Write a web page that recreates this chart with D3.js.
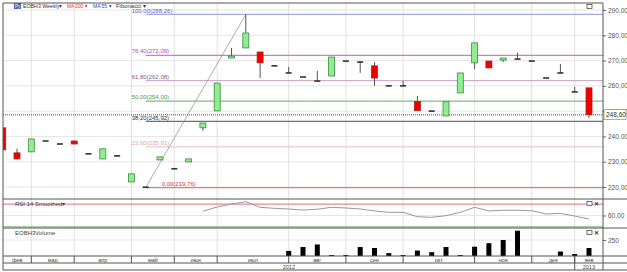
<!DOCTYPE html>
<html>
<head>
<meta charset="utf-8">
<script src="https://cdn.jsdelivr.net/npm/d3@7"></script>
<style>
body { margin: 0; background: #fff; }
text { font-family: "Liberation Sans", Arial, sans-serif; }
</style>
</head>
<body>
<div id="chart"></div>
<script>
// weekly candles, EOBH3
var open  = [243.4,233.5,233.9,238.2,237.0,238.2,233.1,231.1,232.3,222.0,219.9,230.7,227.2,229.9,243.4,250.1,271.0,275.0,273.4,267.9,265.1,263.5,261.9,263.9,269.8,269.4,267.9,260.0,260.0,253.8,250.0,248.1,257.2,269.1,269.8,270.2,270.6,269.8,263.1,265.1,257.6,259.2]
var high  = [243.4,235.1,239.0,238.2,237.0,238.2,233.1,235.1,232.3,225.2,219.9,231.9,227.2,231.1,245.3,261.1,275.0,288.26,273.4,267.9,267.5,263.5,265.9,271.4,269.8,269.8,269.4,260.0,262.0,256.0,250.0,253.7,265.1,277.0,269.8,271.0,273.0,269.8,263.1,268.7,259.6,259.2]
var low   = [234.7,231.1,233.9,238.2,237.0,237.0,233.1,231.1,232.3,222.0,219.76,230.7,227.2,229.9,242.2,250.1,271.0,275.0,263.1,267.9,265.1,263.5,261.9,263.9,269.8,265.1,260.0,260.0,260.0,250.2,250.0,248.1,257.2,266.7,267.1,269.4,270.6,269.8,263.1,265.1,257.6,247.3]
var close = [234.7,231.1,239.0,238.2,237.0,237.0,233.1,235.1,232.3,225.2,219.9,231.9,227.2,231.1,245.3,261.1,271.8,280.9,269.1,267.9,265.1,263.5,261.9,271.4,269.8,269.4,263.1,260.0,260.0,250.2,250.0,253.7,265.1,277.0,267.1,271.0,270.6,269.8,263.1,265.1,257.6,248.6]
var volume = [null,null,null,null,null,null,null,null,null,null,null,null,null,null,null,null,null,null,null,null,80,140,180,15,15,140,125,45,15,85,60,140,15,145,200,250,395,0,0,70,30,125]
var rsi = [null,null,null,null,null,null,null,null,null,null,null,null,null,null,63.7,67.5,70.1,72.1,67.2,66.3,65.7,64.8,65.5,67.2,66.6,65.7,64.0,62.8,62.8,58.9,58.4,59.8,62.8,67.2,64.0,64.6,64.6,64.2,61.3,61.9,59.5,56.9]

var months = ["фев","мар","апр","май","июн","июл","авг","сен","окт","ноя","дек","янв"]
var monthStart = [0,2,5,9,12,15,20,24,28,33,37,40]
var years = ["2012","2013"]
var yearStart = [0,40]

var priceTicks = [220,230,240,250,260,270,280,290]
var fibLevels = [0,23.6,38.2,50,61.8,76.4,100]
var fibPrices = [219.76,235.91,245.92,254.00,262.08,272.09,288.26]
var fibColors = ["#d98080","#ecd6d6","#707070","#7fbf7f","#cdb0cd","#c77fc7","#a8a8e6"]
var fibText = ["#d04040","#d9a8a8","#333333","#4a9a4a","#8a5a8a","#c040c0","#6060d0"]
var fibFrom = 10, fibTo = 17
var lastPrice = 248.6

var width = 627, height = 272
var left = 3, right = 603
var mainTop = 3, mainBottom = 199
var rsiBottom = 228, volBottom = 256, monthBottom = 263, yearBottom = 270

var svg = d3.select("#chart")
  .append("svg")
    .attr("width", width)
    .attr("height", height)

var n = close.length
var x = d3.scaleLinear().domain([0, n - 1]).range([2.7, 589])
var y = d3.scaleLinear().domain([215.25, 292.77]).range([mainBottom, mainTop])
var yRsi = d3.scaleLinear().domain([49, 74.5]).range([rsiBottom, mainBottom])
var yVol = d3.scaleLinear().domain([0, 437.5]).range([volBottom, rsiBottom])

svg.append("clipPath").attr("id", "clip")
  .append("rect").attr("x", left).attr("y", mainTop).attr("width", right - left).attr("height", mainBottom - mainTop)

// grid
var grid = svg.append("g")
grid.selectAll(".hg").data(priceTicks).join("line")
    .attr("x1", left).attr("x2", right)
    .attr("y1", d => y(d)).attr("y2", d => y(d))
    .attr("stroke", "#e6e6e6")
grid.append("line").attr("x1", left).attr("x2", right).attr("y1", yRsi(60)).attr("y2", yRsi(60)).attr("stroke", "#e6e6e6")
grid.append("line").attr("x1", left).attr("x2", right).attr("y1", yVol(250)).attr("y2", yVol(250)).attr("stroke", "#e6e6e6")
grid.selectAll(".vg").data(monthStart.slice(1)).join("line")
    .attr("x1", d => x(d)).attr("x2", d => x(d))
    .attr("y1", mainTop).attr("y2", volBottom)
    .attr("stroke", "#e0e0e0")

var main = svg.append("g").attr("clip-path", "url(#clip)")

// fibonacci
var comma = v => v.toFixed(2).replace(".", ",")
var fib = fibLevels.map((l, i) => ({ level: l, value: fibPrices[i], i: i }))
main.selectAll(".fib").data(fib).join("line")
    .attr("x1", x(fibFrom)).attr("x2", right)
    .attr("y1", d => y(d.value)).attr("y2", d => y(d.value))
    .attr("stroke", d => fibColors[d.i]).attr("stroke-width", 1.3)
main.append("line")
    .attr("x1", x(fibFrom)).attr("y1", y(low[fibFrom]))
    .attr("x2", x(fibTo)).attr("y2", y(high[fibTo]))
    .attr("stroke", "#999").attr("stroke-width", 0.8)

// last price dotted line
main.append("line")
    .attr("x1", left).attr("x2", right)
    .attr("y1", y(lastPrice)).attr("y2", y(lastPrice))
    .attr("stroke", "#e06060").attr("stroke-width", 1.5).attr("stroke-dasharray", "1,1")

main.selectAll(".fibl").data(fib).join("text")
    .attr("x", d => d.level == 0 ? x(fibFrom) + 16 : x(fibFrom) - 14)
    .attr("y", d => y(d.value) - 1.8)
    .attr("font-size", 6)
    .attr("fill", d => fibText[d.i])
    .text(d => comma(d.level) + "(" + comma(d.value) + ")")

// candles
var idx = d3.range(n)
main.selectAll(".wick").data(idx).join("line")
    .attr("x1", i => x(i)).attr("x2", i => x(i))
    .attr("y1", i => y(high[i])).attr("y2", i => y(low[i]))
    .attr("stroke", "#555").attr("stroke-width", 1)
main.selectAll(".body").data(idx.filter(i => open[i] != close[i])).join("rect")
    .attr("x", i => x(i) - 3)
    .attr("y", i => y(Math.max(open[i], close[i])))
    .attr("width", 6)
    .attr("height", i => Math.max(1.5, Math.abs(y(open[i]) - y(close[i]))))
    .attr("fill", i => close[i] > open[i] ? "#90ee90" : "#ee0000")
    .attr("stroke", i => close[i] > open[i] ? "#3d8b3d" : "#aa2020")
    .attr("stroke-width", 0.8)
main.selectAll(".doji").data(idx.filter(i => open[i] == close[i])).join("rect")
    .attr("x", i => x(i) - 3)
    .attr("y", i => y(close[i]) - 0.8)
    .attr("width", 6).attr("height", 1.6)
    .attr("fill", "#333")

// rsi
svg.append("line").attr("x1", left).attr("x2", right).attr("y1", yRsi(70)).attr("y2", yRsi(70)).attr("stroke", "#e07070")
svg.append("line").attr("x1", left).attr("x2", right).attr("y1", yRsi(50)).attr("y2", yRsi(50)).attr("stroke", "#70b070")
svg.append("path")
    .datum(idx.filter(i => rsi[i] != null))
    .attr("fill", "none").attr("stroke", "#999").attr("stroke-width", 1)
    .attr("d", d3.line().x(i => x(i)).y(i => yRsi(rsi[i])))

// volume
svg.selectAll(".vol").data(idx.filter(i => volume[i])).join("rect")
    .attr("x", i => x(i) - 2.5)
    .attr("y", i => yVol(volume[i]))
    .attr("width", 5)
    .attr("height", i => volBottom - yVol(volume[i]))
    .attr("fill", "#000")

// right axes
var axisG = svg.append("g").attr("transform", "translate(" + right + ",0)")
axisG.call(d3.axisRight(y).tickValues(priceTicks).tickSize(3).tickFormat(comma))
axisG.append("g").call(d3.axisRight(yRsi).tickValues([60]).tickSize(3).tickFormat(comma))
axisG.append("g").call(d3.axisRight(yVol).tickValues([250]).tickSize(3).tickFormat(d3.format("d")))
axisG.selectAll(".domain").remove()
axisG.selectAll("line").attr("stroke", "#666")
axisG.selectAll("text").attr("font-size", 6.5).attr("fill", "#555").attr("x", 5)
    .style("font-family", "Liberation Sans, Arial, sans-serif")

// last price box
axisG.append("rect").attr("x", 1).attr("y", y(lastPrice) - 5).attr("width", 22).attr("height", 10)
    .attr("fill", "#fffff0").attr("stroke", "#888").attr("stroke-width", 0.7)
axisG.append("text").attr("x", 3).attr("y", y(lastPrice) + 2.5).attr("font-size", 6.5).attr("fill", "#333").text(comma(lastPrice))

// frame and separators
var frame = svg.append("g").attr("stroke", "#555").attr("fill", "none")
frame.append("line").attr("x1", left).attr("x2", right).attr("y1", mainTop).attr("y2", mainTop)
frame.append("line").attr("x1", left).attr("x2", left).attr("y1", mainTop).attr("y2", yearBottom)
frame.append("line").attr("x1", right).attr("x2", right).attr("y1", mainTop).attr("y2", yearBottom)
;[mainBottom, rsiBottom, volBottom, monthBottom, yearBottom].forEach(function(v) {
  frame.append("line").attr("x1", left).attr("x2", width).attr("y1", v).attr("y2", v)
})

// month and year labels
var bounds = monthStart.map((s, i) => ({
  name: months[i],
  x0: i == 0 ? left : x(s),
  x1: i == months.length - 1 ? right : x(monthStart[i + 1])
}))
frame.selectAll(".ms").data(bounds.slice(1)).join("line")
    .attr("x1", d => d.x0).attr("x2", d => d.x0).attr("y1", volBottom).attr("y2", monthBottom)
svg.selectAll(".ml").data(bounds).join("text")
    .attr("x", d => (d.x0 + d.x1) / 2).attr("y", volBottom + 5.5)
    .attr("text-anchor", "middle").attr("font-size", 5.5).attr("fill", "#444")
    .text(d => d.name)
var ybounds = yearStart.map((s, i) => ({
  name: years[i],
  x0: i == 0 ? left : x(s),
  x1: i == years.length - 1 ? right : x(yearStart[i + 1])
}))
frame.selectAll(".ys").data(ybounds.slice(1)).join("line")
    .attr("x1", d => d.x0).attr("x2", d => d.x0).attr("y1", volBottom).attr("y2", yearBottom)
svg.selectAll(".yl").data(ybounds).join("text")
    .attr("x", d => (d.x0 + d.x1) / 2).attr("y", monthBottom + 6)
    .attr("text-anchor", "middle").attr("font-size", 5.5).attr("fill", "#444")
    .text(d => d.name)

// headers
function header(tx, w, color, label) {
  svg.append("text").attr("x", tx).attr("y", 8).attr("font-size", 6)
      .attr("textLength", w).attr("lengthAdjust", "spacingAndGlyphs")
      .attr("fill", color).text(label)
}
svg.append("rect").attr("x", 14).attr("y", 3).attr("width", 7).attr("height", 6).attr("fill", "#5060a8")
svg.append("text").attr("x", 15).attr("y", 8).attr("font-size", 4.5).attr("fill", "#fff").text("Py")
header(23, 39, "#333", "EOBH3 Weekly▾")
header(67, 20, "#e03030", "MA 200 ▾")
header(93, 18, "#3040d0", "MA 55 ▾")
header(116, 30, "#333", "Fibonacci ▾")
svg.append("text").attr("x", 15).attr("y", mainBottom + 6.5).attr("font-size", 6).attr("fill", "#444").text("RSI 14 Smoothed▾")
svg.append("text").attr("x", 15).attr("y", rsiBottom + 6.5).attr("font-size", 6).attr("fill", "#444").text("EOBH3Volume")

// panel buttons
function buttons(yy, withClose) {
  svg.append("rect").attr("x", 587).attr("y", yy).attr("width", 5).attr("height", 4)
      .attr("fill", "#fff").attr("stroke", "#333").attr("stroke-width", 0.7)
  if (withClose) svg.append("text").attr("x", 594).attr("y", yy + 4.5).attr("font-size", 6).attr("font-weight", "bold").attr("fill", "#333").text("✕")
}
buttons(4.5, false)
buttons(mainBottom + 2.5, true)
buttons(rsiBottom + 2.5, true)
</script>
</body>
</html>
